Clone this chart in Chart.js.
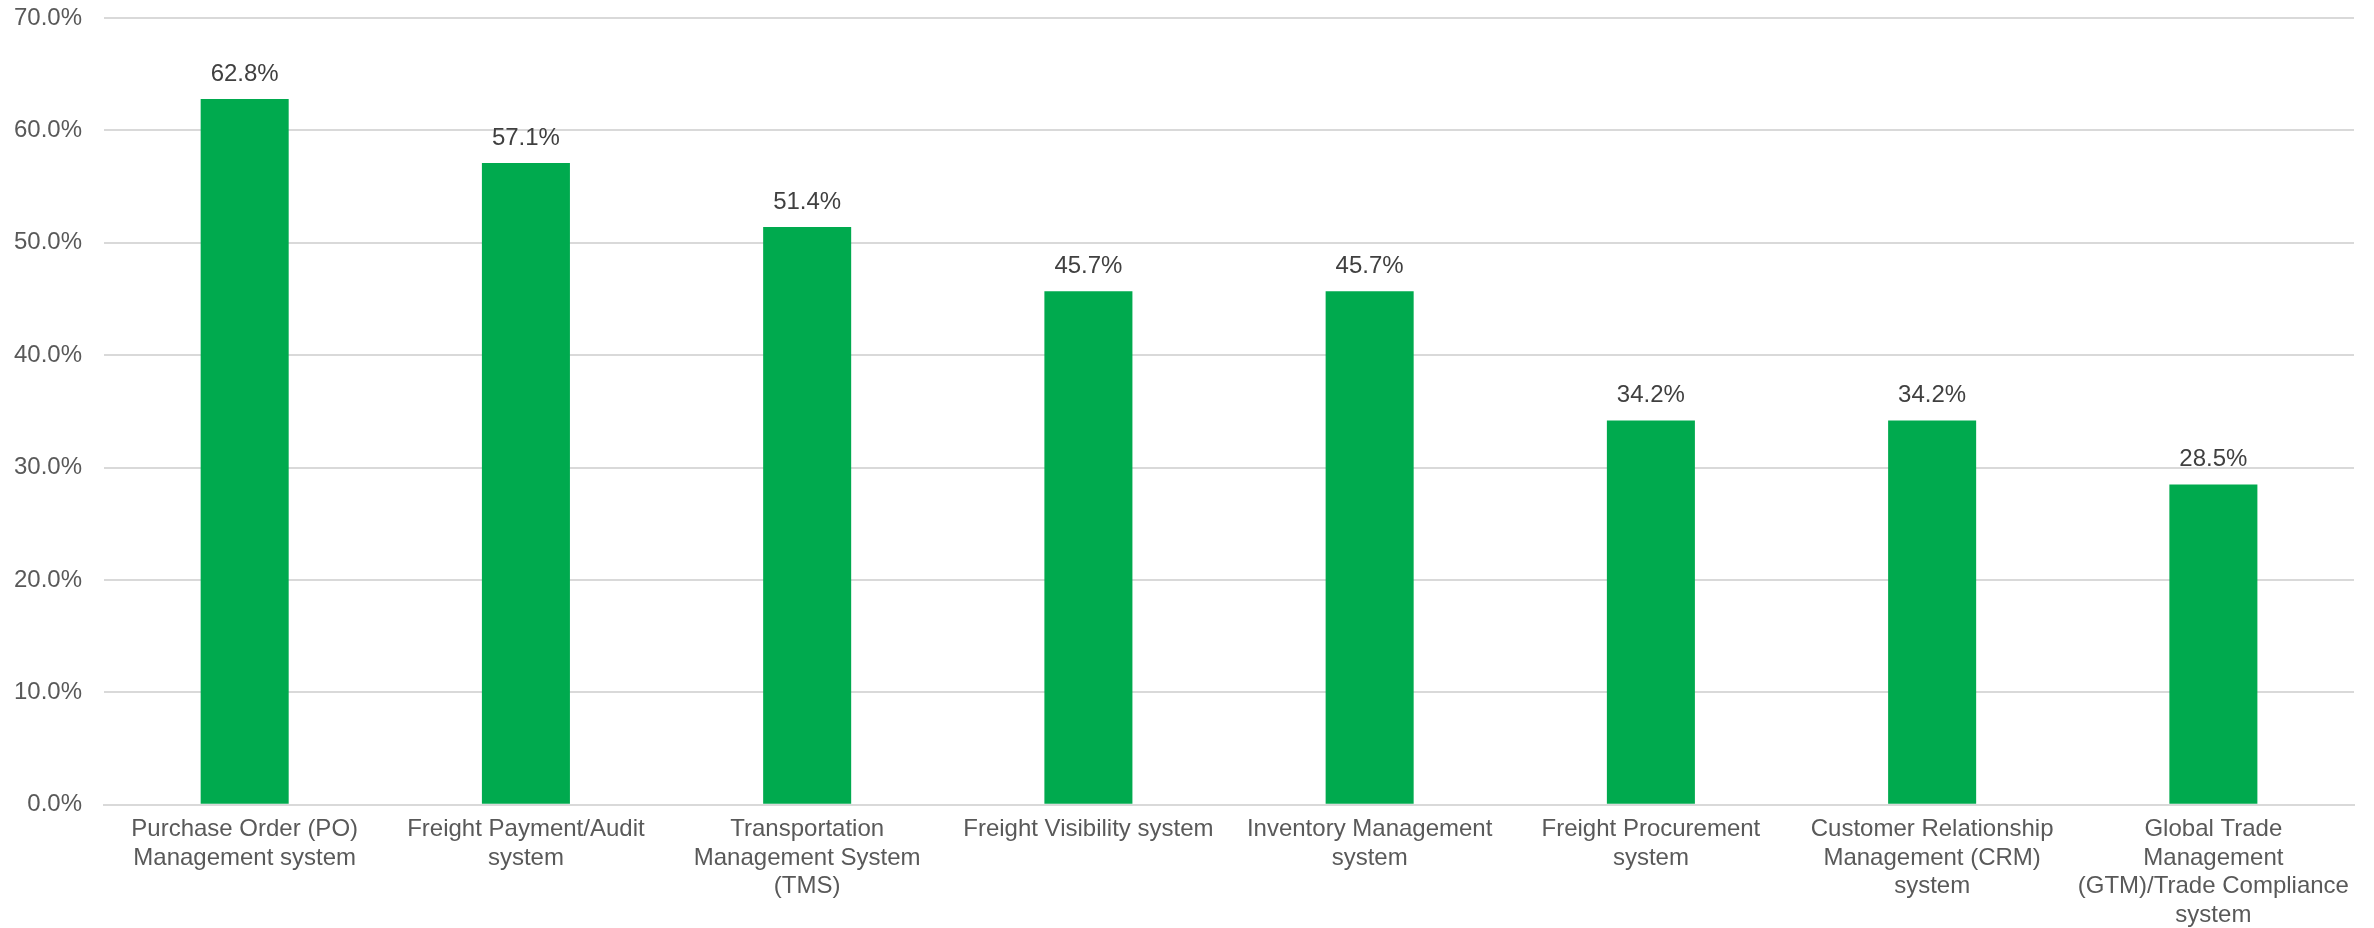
<!DOCTYPE html>
<html>
<head>
<meta charset="utf-8">
<script src="https://cdn.jsdelivr.net/npm/chart.js@4"></script>
<style>
  html, body { margin: 0; padding: 0; background: #fff; }
  #wrap { width: 2374px; height: 928px; }
</style>
</head>
<body>
<div id="wrap"><canvas id="grafico"></canvas></div>
<script>
var sistemas = [
  ["Purchase Order (PO)", "Management system"],
  ["Freight Payment/Audit", "system"],
  ["Transportation", "Management System", "(TMS)"],
  "Freight Visibility system",
  ["Inventory Management", "system"],
  ["Freight Procurement", "system"],
  ["Customer Relationship", "Management (CRM)", "system"],
  ["Global Trade", "Management", "(GTM)/Trade Compliance", "system"]
];

var percentuais = [62.8, 57.1, 51.4, 45.7, 45.7, 34.2, 34.2, 28.5];

var fonte = "'Liberation Sans', Arial, sans-serif";

// escreve o valor em cima de cada barra
var rotulosBarras = {
  id: "rotulosBarras",
  afterDatasetsDraw(chart) {
    var ctx = chart.ctx;
    var meta = chart.getDatasetMeta(0);
    ctx.save();
    ctx.font = "24px " + fonte;
    ctx.fillStyle = "#404040";
    ctx.textAlign = "center";
    ctx.textBaseline = "middle";
    meta.data.forEach((barra, i) => {
      ctx.fillText(percentuais[i].toFixed(1) + "%", barra.x, barra.y - 25);
    });
    ctx.restore();
  }
};

new Chart(document.getElementById("grafico"), {
  type: "bar",
  data: {
    labels: sistemas,
    datasets: [{
      data: percentuais,
      backgroundColor: "#00aa4e",
      barPercentage: 0.313,
      categoryPercentage: 1
    }]
  },
  options: {
    responsive: true,
    maintainAspectRatio: false,
    animation: false,
    layout: { padding: { left: 14, right: 20, top: 18, bottom: -12 } },
    plugins: {
      legend: { display: false },
      tooltip: { enabled: false }
    },
    scales: {
      x: {
        grid: { display: false, drawTicks: false },
        border: { color: "#d9d9d9", width: 2 },
        ticks: {
          color: "#595959",
          font: { family: fonte, size: 24, lineHeight: 1.2 },
          padding: 10,
          maxRotation: 0,
          autoSkip: false
        }
      },
      y: {
        min: 0,
        max: 70,
        // marcas invisíveis só para afastar os rótulos da área do gráfico
        grid: { color: "#d9d9d9", lineWidth: 2, drawTicks: true, tickLength: 22, tickColor: "rgba(0,0,0,0)" },
        border: { display: false },
        ticks: {
          stepSize: 10,
          color: "#595959",
          font: { family: fonte, size: 24 },
          padding: 0,
          callback: v => v.toFixed(1) + "%"
        }
      }
    }
  },
  plugins: [rotulosBarras]
});
</script>
</body>
</html>
